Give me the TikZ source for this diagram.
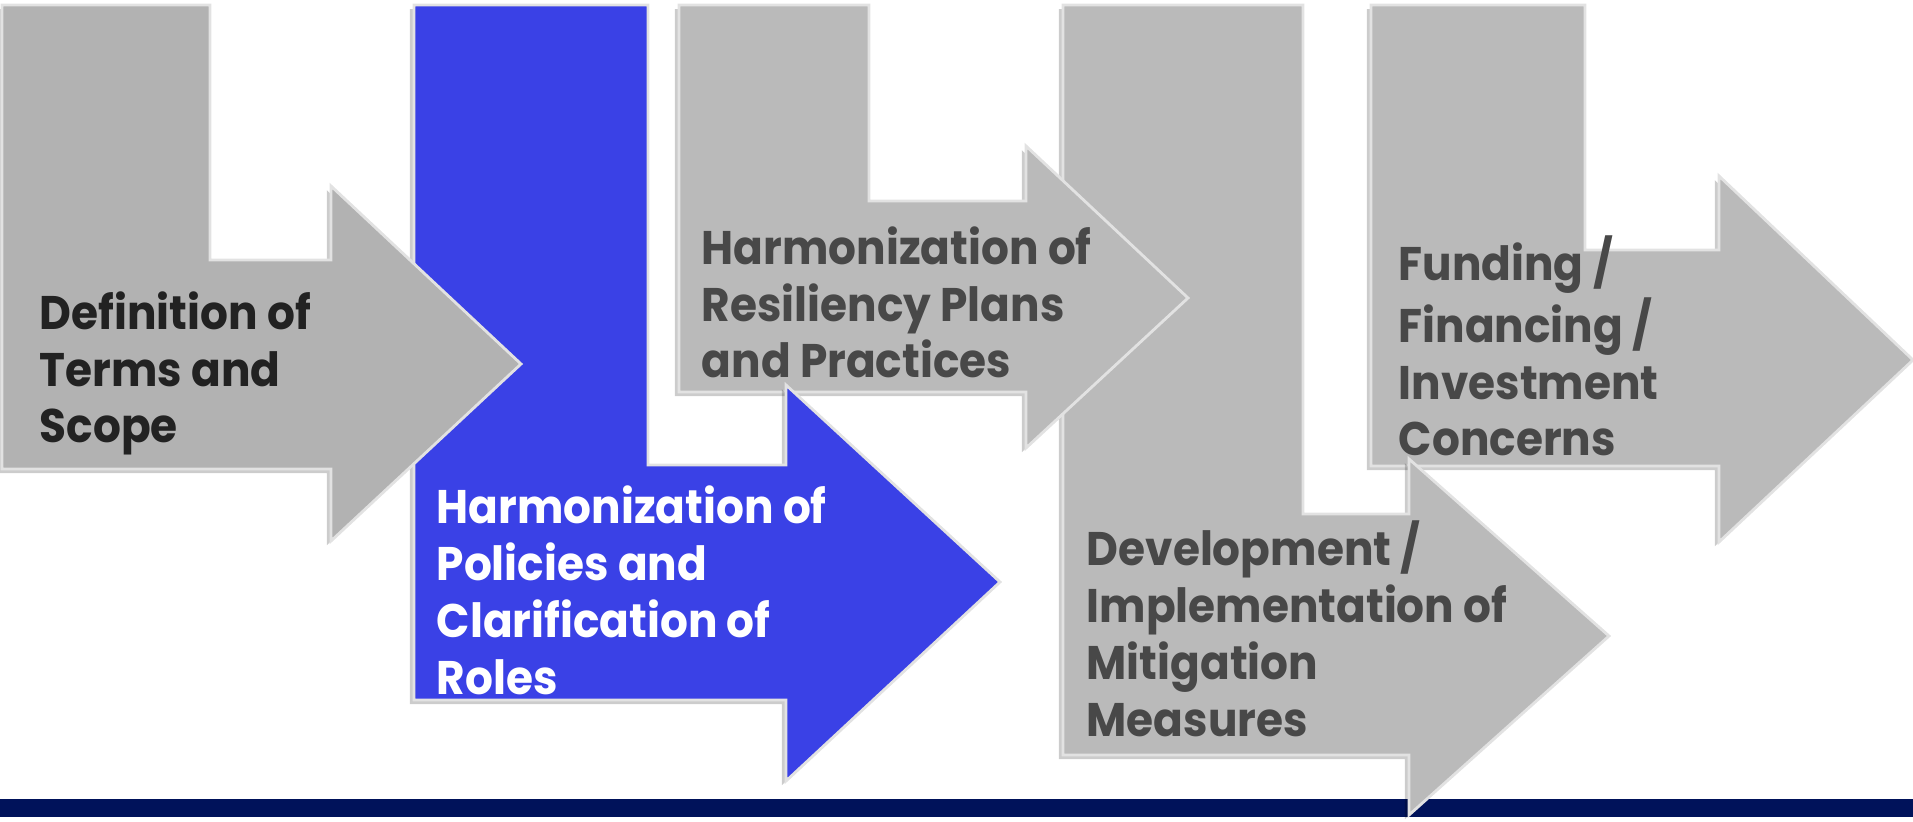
\documentclass[tikz,border=0pt]{standalone}
\usepackage{fontspec}
\setmainfont{Poppins}[FakeStretch=0.93]
\usepackage{tikz}
\usetikzlibrary{shadows}
\definecolor{greyA}{HTML}{B2B2B2}
\definecolor{greyB}{HTML}{BABABA}
\definecolor{blueA}{HTML}{3A41E6}
\definecolor{navy}{HTML}{00125A}
\definecolor{edge}{HTML}{E2E2E2}
\definecolor{inkA}{HTML}{222222}
\definecolor{inkB}{HTML}{484848}

\begin{document}
\begin{tikzpicture}[x=.01cm, y=-.01cm,
        larrow/.style={draw=edge, line width=.8pt, line join=miter,
            drop shadow={shadow xshift=-1.2pt, shadow yshift=-1.2pt, opacity=.2, fill=black}},
        steptext/.style={anchor=base west, inner sep=0pt, align=left,
            font=\bfseries\fontsize{13.4}{16.2}\selectfont}]
        \useasboundingbox (0, 0) rectangle (1913, 822);
        \fill[navy](0, 799) rectangle (1913, 817);
        % last arrow first, each one lies over the next
        \draw[larrow, fill=greyB](1371, 5)--(1585, 5)--(1585, 250)--(1719, 250)--(1719, 176)--(1913, 360)--(1719, 542)--(1719, 466)--(1371, 466)--cycle;
        \draw[larrow, fill=greyB](1063, 5)--(1303, 5)--(1303, 514)--(1409, 514)--(1409, 459)--(1609, 636)--(1409, 815)--(1409, 755)--(1063, 755)--cycle;
        \draw[larrow, fill=greyB](679, 5)--(869, 5)--(869, 201)--(1026, 201)--(1026, 146)--(1188, 298)--(1026, 448)--(1026, 392)--(679, 392)--cycle;
        \draw[larrow, fill=blueA](414, 5)--(648, 5)--(648, 465)--(786, 465)--(786, 385)--(1000, 582)--(786, 781)--(786, 700)--(414, 700)--cycle;
        \draw[larrow, fill=greyA](2, 5)--(210, 5)--(210, 260)--(331, 260)--(331, 186)--(521, 364)--(331, 541)--(331, 469)--(2, 469)--cycle;
        % texts sit on the baseline of their last line
        \node[steptext, text=inkA](terms) at (39, 443){Definition of\\Terms and\\Scope};
        \node[steptext, text=white](policies) at (436, 694){Harmonization of\\Policies and\\Clarification of\\Roles};
        \node[steptext, text=inkB](plans) at (701, 378){Harmonization of\\Resiliency Plans\\and Practices};
        \node[steptext, text=inkB](measures) at (1086, 736){Development /\\Implementation of\\Mitigation\\Measures};
        \node[steptext, text=inkB](funding) at (1398, 456){Funding /\\Financing /\\Investment\\Concerns};
    \end{tikzpicture}
\end{document}
